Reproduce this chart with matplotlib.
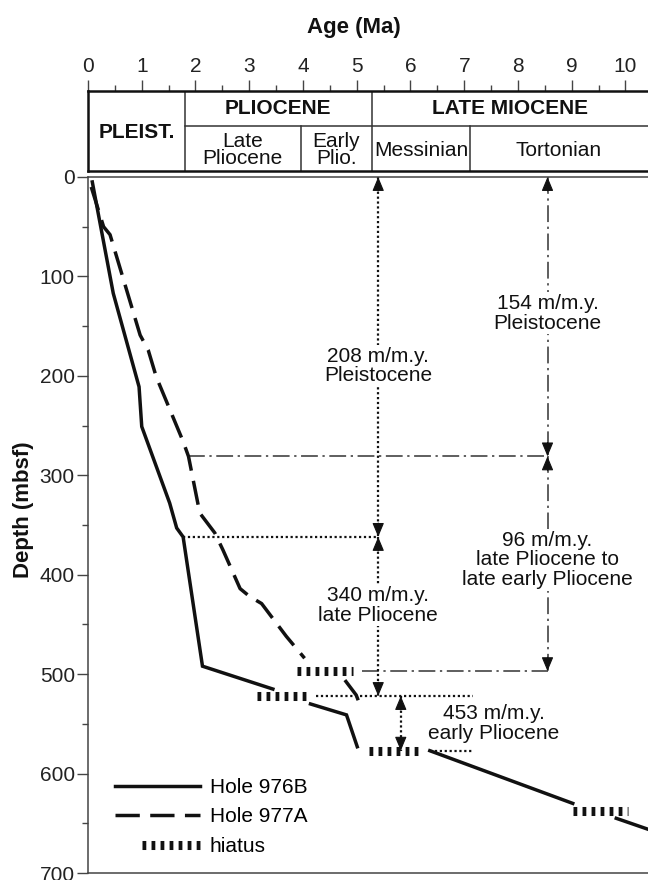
import numpy as np
import matplotlib
matplotlib.use("Agg")
import matplotlib.pyplot as plt
from matplotlib.lines import Line2D
from matplotlib.legend_handler import HandlerLine2D

plt.rcParams['font.family'] = ['Liberation Sans', 'DejaVu Sans']

# ---------------- data ----------------
# Hole 976B (solid), NaN = break hidden by hiatus symbol
age_976b = [0.08, 0.47, 0.95, 1.00, 1.52, 1.65, 1.77, 2.13, 3.44, np.nan,
            4.14, 4.81, 5.01, np.nan, 6.36, 9.02, np.nan, 9.83, 10.42]
depth_976b = [5, 117, 211, 251, 328, 353, 362, 492, 515, np.nan,
              530, 541, 573, np.nan, 577, 630, np.nan, 645, 656]

# Hole 977A (dashed)
age_977a = [0.06, 0.29, 0.41, 0.97, 1.12, 1.27, 1.77, 1.87, 2.08, 2.36, 2.51,
            2.83, 3.01, 3.23, 3.69, 4.03, np.nan, 4.78, 4.99, 5.09]
depth_977a = [10, 50, 58, 159, 174, 201, 266, 281, 338, 358, 375,
              414, 422, 429, 462, 484, np.nan, 506, 521, 535]

# hiatuses
hiatus_start = [3.88, 3.14, 5.22, 9.02]
hiatus_end = [4.93, 4.14, 6.23, 10.04]
hiatus_depth = [497, 522, 577, 638]

# horizontal guide lines
dotted_start = [1.77, 4.25, 6.36]
dotted_end = [5.40, 7.16, 7.16]
dotted_depth = [362, 522, 577]
dashdot_start = [1.86, 5.09]
dashdot_end = [8.55, 8.55]
dashdot_depth = [281, 497]

# vertical double arrows
arrow_age = [5.40, 5.40, 8.55, 8.55, 5.82]
arrow_top = [0, 362, 0, 281, 522]
arrow_bottom = [362, 522, 281, 497, 577]
arrow_dotted = [True, True, False, False, True]

# rate labels
rate_text = ["208 m/m.y.\nPleistocene", "340 m/m.y.\nlate Pliocene",
             "154 m/m.y.\nPleistocene",
             "96 m/m.y.\nlate Pliocene to\nlate early Pliocene",
             "453 m/m.y.\nearly Pliocene"]
rate_age = [5.40, 5.40, 8.55, 8.55, 7.55]
rate_depth = [190, 431, 137, 385, 550]

# time scale header
epoch_bounds = [0.0, 1.80, 5.28, 10.42]
epoch_labels = ["PLEIST.", "PLIOCENE", "LATE MIOCENE"]
sub_bounds = [1.80, 3.96, 5.28, 7.11, 10.42]
sub_labels = ["Late\nPliocene", "Early\nPlio.", "Messinian", "Tortonian"]

legend_labels = ["Hole 976B", "Hole 977A", "hiatus"]

age_ticks = list(range(0, 11))
depth_ticks = list(range(0, 701, 100))

# ---------------- figure ----------------
W, H = 648, 880
fig = plt.figure(figsize=(W / 100, H / 100), dpi=100)

L, R = 88, 648
ax_top, ax_bot = 177, 873
ax = fig.add_axes([L / W, 1 - ax_bot / H, (R - L) / W, (ax_bot - ax_top) / H])
hd_top, hd_bot = 91, 171
hax = fig.add_axes([L / W, 1 - hd_bot / H, (R - L) / W, (hd_bot - hd_top) / H])

XMAX = 10.42
FS = 15
INK = '#111111'
GRAY = '#444444'

# ---- main axes ----
ax.set_xlim(0, XMAX)
ax.set_ylim(700, 0)
ax.spines['right'].set_visible(False)
for s in ['left', 'bottom', 'top']:
    ax.spines[s].set_color(GRAY)
    ax.spines[s].set_linewidth(1.1)
ax.tick_params(axis='x', bottom=False, labelbottom=False, top=False)
ax.set_yticks(depth_ticks)
ax.set_yticks(np.arange(50, 700, 100), minor=True)
ax.tick_params(axis='y', which='major', direction='out', length=8, width=1.0,
               color=GRAY, labelsize=FS, pad=1.5, labelcolor='#222222')
ax.tick_params(axis='y', which='minor', direction='out', length=4.3, width=1.0,
               color=GRAY)

# curves
ax.plot(age_976b, depth_976b, color=INK, lw=2.5, solid_joinstyle='miter', zorder=3)
ax.plot(age_977a, depth_977a, color=INK, lw=2.5, ls=(0, (7.0, 3.0)),
        dash_capstyle='butt', zorder=3)

# hiatus symbols
HIAT_LS = (0, (0.42, 0.58))
for a0, a1, d in zip(hiatus_start, hiatus_end, hiatus_depth):
    ax.plot([a0, a1], [d, d], color=INK, lw=6.5, ls=HIAT_LS,
            dash_capstyle='butt', zorder=4)

# guide lines
for a0, a1, d in zip(dotted_start, dotted_end, dotted_depth):
    ax.plot([a0, a1], [d, d], color=INK, lw=1.6, ls=(0, (1, 1.2)), zorder=2)
for a0, a1, d in zip(dashdot_start, dashdot_end, dashdot_depth):
    ax.plot([a0, a1], [d, d], color='#333333', lw=1.1, ls=(0, (11, 3, 1.5, 3)), zorder=2)


def head(x, y, down):
    off = 10 if down else -10
    ax.annotate('', xy=(x, y), xytext=(0, off), textcoords='offset points',
                arrowprops=dict(arrowstyle='-|>,head_length=0.86,head_width=0.36',
                                mutation_scale=10, color=INK, lw=0.8,
                                shrinkA=0, shrinkB=0), zorder=5,
                annotation_clip=False)


for x, t, b, dotted in zip(arrow_age, arrow_top, arrow_bottom, arrow_dotted):
    if dotted:
        ax.plot([x, x], [t, b], color=INK, lw=1.6, ls=(0, (1, 1.2)), zorder=2)
    else:
        ax.plot([x, x], [t, b], color='#333333', lw=1.1, ls=(0, (11, 3, 1.5, 3)), zorder=2)
    head(x, t, down=False)
    head(x, b, down=True)

for txt, a, d in zip(rate_text, rate_age, rate_depth):
    ax.text(a, d, txt, ha='center', va='center', fontsize=FS, color=INK,
            linespacing=1.05, zorder=6,
            bbox=dict(facecolor='white', edgecolor='none', pad=1.0))


# legend
class ShortHandler(HandlerLine2D):
    def get_xdata(self, legend, xdescent, ydescent, width, height, fontsize):
        xd, xm = super().get_xdata(legend, xdescent, ydescent, width, height, fontsize)
        return [xd[0] + 0.32 * width, xd[-1]], xm


h_solid = Line2D([], [], color=INK, lw=2.5)
h_dash = Line2D([], [], color=INK, lw=2.5, ls=(0, (7.0, 3.0)), dash_capstyle='butt')
h_hiat = Line2D([], [], color=INK, lw=6.5, ls=HIAT_LS, dash_capstyle='butt')
ax.legend([h_solid, h_dash, h_hiat], legend_labels, loc='upper left',
          bbox_to_anchor=(27 / (R - L), (ax_bot - 778) / (ax_bot - ax_top)),
          frameon=False, fontsize=FS, handlelength=4.1, handletextpad=0.45,
          labelspacing=0.5, borderpad=0, borderaxespad=0,
          handler_map={h_hiat: ShortHandler()})

# ---- header axes ----
hax.set_xlim(0, XMAX)
hax.set_ylim(0, 1)
hax.spines['right'].set_visible(False)
for s in ['left', 'top', 'bottom']:
    hax.spines[s].set_linewidth(1.8)
    hax.spines[s].set_color(INK)
hax.set_yticks([])
hax.xaxis.set_ticks_position('top')
hax.set_xticks(age_ticks)
hax.set_xticks(np.arange(0.5, 10.5, 1.0), minor=True)
hax.tick_params(axis='x', which='major', direction='out', length=8, width=1.0,
                color=GRAY, labelsize=FS, pad=3, labelcolor='#222222',
                top=True, bottom=False, labeltop=True, labelbottom=False)
hax.tick_params(axis='x', which='minor', direction='out', length=4.3, width=1.0,
                color=GRAY, top=True, bottom=False)

row = (hd_bot - 126) / (hd_bot - hd_top)
for b in epoch_bounds[1:-1]:
    hax.plot([b, b], [0, 1], color='#333333', lw=1.1)
hax.plot([epoch_bounds[1], XMAX], [row, row], color='#333333', lw=1.1)
for b in sub_bounds[1:-1]:
    if b not in epoch_bounds:
        hax.plot([b, b], [0, row], color='#333333', lw=1.1)

# epoch labels
hax.text((epoch_bounds[0] + epoch_bounds[1]) / 2, 0.475, epoch_labels[0],
         ha='center', va='center', fontsize=FS, fontweight='bold', color=INK)
for i in (1, 2):
    hax.text((epoch_bounds[i] + epoch_bounds[i + 1]) / 2, (1 + row) / 2,
             epoch_labels[i], ha='center', va='center', fontsize=FS,
             fontweight='bold', color=INK)
for i, lab in enumerate(sub_labels):
    hax.text((sub_bounds[i] + sub_bounds[i + 1]) / 2, row / 2 - 0.02, lab,
             ha='center', va='center', fontsize=FS, color=INK, linespacing=0.92)

# axis titles
fig.text(353.6 / W, 1 - 28 / H, "Age (Ma)", ha='center', va='center',
         fontsize=16, fontweight='bold', color=INK)
fig.text(24 / W, 1 - 510 / H, "Depth (mbsf)", ha='center', va='center',
         rotation=90, fontsize=16, fontweight='bold', color=INK)

fig.savefig("out.png", dpi=100)
